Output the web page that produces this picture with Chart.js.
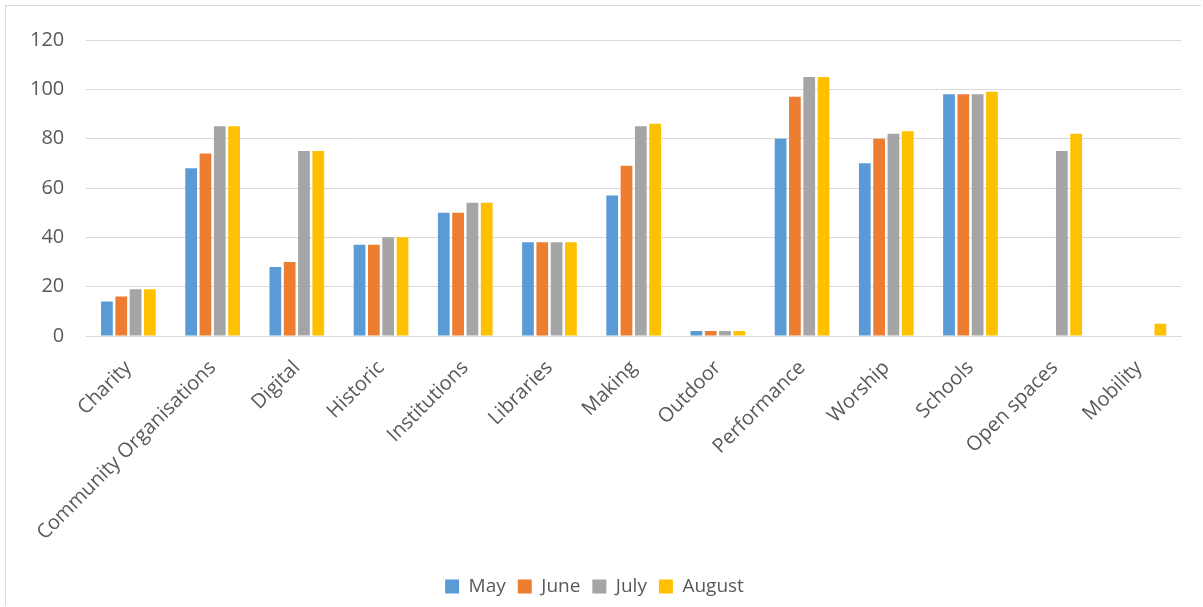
<!DOCTYPE html>
<html>
<head>
<meta charset="utf-8">
<script src="https://cdn.jsdelivr.net/npm/chart.js@4"></script>
<style>
  html, body { margin: 0; padding: 0; background: #fff; }
  #wrap { position: absolute; left: 5px; top: 5px; width: 1196px; height: 601px; border: 1px solid #d9d9d9; border-right: none; border-bottom: none; box-sizing: border-box; }
</style>
</head>
<body>
<div id="wrap"><canvas id="activityChart"></canvas></div>
<script>
const categories = ['Charity', 'Community Organisations', 'Digital', 'Historic', 'Institutions',
  'Libraries', 'Making', 'Outdoor', 'Performance', 'Worship', 'Schools', 'Open spaces', 'Mobility'];

// counts per month
const may    = [14, 68, 28, 37, 50, 38, 57, 2, 80, 70, 98, null, null];
const june   = [16, 74, 30, 37, 50, 38, 69, 2, 97, 80, 98, null, null];
const july   = [19, 85, 75, 40, 54, 38, 85, 2, 105, 82, 98, 75, null];
const august = [19, 85, 75, 40, 54, 38, 86, 2, 105, 83, 99, 82, 5];

const yTicks = [0, 20, 40, 60, 80, 100, 120];

const ctx = document.getElementById('activityChart').getContext('2d');
const wrap = document.getElementById('wrap');
ctx.canvas.width = wrap.clientWidth;
ctx.canvas.height = wrap.clientHeight;

function series(label, data, color) {
  return {
    label: label,
    data: data,
    backgroundColor: color,
    categoryPercentage: 0.68,
    barPercentage: 0.82
  };
}

new Chart(ctx, {
  type: 'bar',
  data: {
    labels: categories,
    datasets: [
      series('May', may, '#5B9BD5'),
      series('June', june, '#ED7D31'),
      series('July', july, '#A5A5A5'),
      series('August', august, '#FFC000')
    ]
  },
  options: {
    responsive: false,
    animation: false,
    layout: { padding: { top: 29, right: 20, left: 2, bottom: 0 } },
    scales: {
      x: {
        grid: { display: false, drawTicks: false },
        border: { color: '#d9d9d9' },
        ticks: {
          color: '#595959',
          font: { family: 'Open Sans', size: 20 },
          minRotation: 45,
          maxRotation: 45,
          autoSkip: false,
          padding: 20
        }
      },
      y: {
        min: 0,
        max: 120,
        afterBuildTicks: axis => { axis.ticks = yTicks.map(v => ({ value: v })); },
        grid: { color: '#d9d9d9', drawTicks: false },
        border: { display: false },
        ticks: {
          color: '#595959',
          font: { family: 'Open Sans', size: 20 },
          padding: 22
        }
      }
    },
    plugins: {
      legend: {
        position: 'bottom',
        labels: {
          color: '#595959',
          font: { family: 'Open Sans', size: 19 },
          boxWidth: 14,
          boxHeight: 14,
          padding: 12
        }
      },
      tooltip: { enabled: false }
    }
  }
});
</script>
</body>
</html>
